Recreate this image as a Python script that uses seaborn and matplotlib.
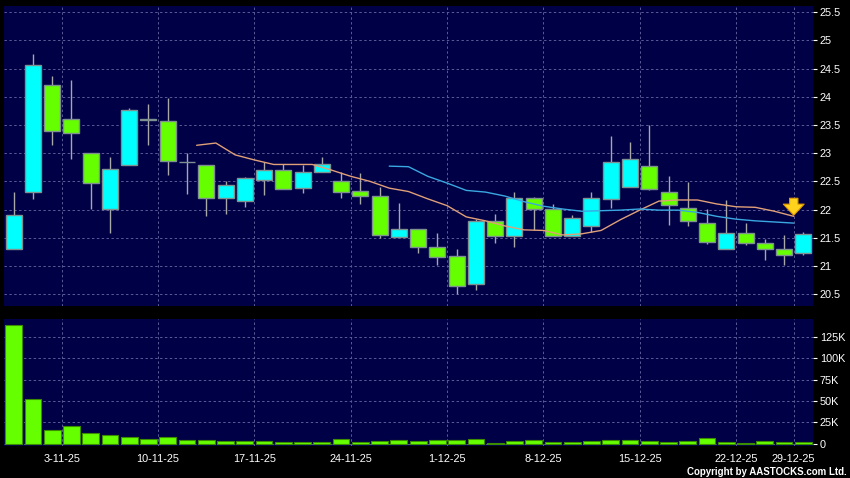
import numpy as np
import pandas as pd
import matplotlib
matplotlib.use("Agg")
import matplotlib.pyplot as plt
import matplotlib.ticker as mticker
import seaborn as sns

# ─── data ───────────────────────────────────────────────────────────────────
dates = pd.bdate_range("2025-10-28", "2025-12-29").drop(
    pd.to_datetime(["2025-10-29", "2025-12-25", "2025-12-26"]))

opens = [21.30, 22.31, 24.21, 23.60, 23.00, 22.01, 22.79, 23.60, 23.57, 22.84,
         22.79, 22.20, 22.15, 22.53, 22.70, 22.38, 22.66, 22.50, 22.33, 22.24,
         21.52, 21.65, 21.33, 21.17, 20.68, 21.79, 21.53, 22.20, 22.01, 21.53,
         21.71, 22.18, 22.40, 22.77, 22.31, 22.03, 21.77, 21.30, 21.58, 21.41,
         21.30, 21.23]
closes = [21.91, 24.56, 23.39, 23.36, 22.47, 22.72, 23.76, 23.58, 22.86, 22.84,
          22.20, 22.43, 22.56, 22.70, 22.36, 22.66, 22.80, 22.31, 22.24, 21.55,
          21.65, 21.33, 21.16, 20.64, 21.79, 21.53, 22.20, 22.01, 21.53, 21.85,
          22.20, 22.84, 22.89, 22.36, 22.08, 21.79, 21.42, 21.58, 21.41, 21.30,
          21.19, 21.56]
highs = [22.31, 24.76, 24.37, 24.30, 23.00, 22.93, 23.80, 23.87, 23.98, 23.00,
         22.79, 22.50, 22.58, 22.85, 22.80, 22.79, 22.93, 22.66, 22.65, 22.40,
         22.11, 21.65, 21.58, 21.30, 21.83, 21.93, 22.31, 22.22, 22.10, 21.90,
         22.31, 23.30, 23.20, 23.50, 22.59, 22.49, 22.01, 22.17, 21.77, 21.48,
         21.55, 21.60]
lows = [21.30, 22.19, 23.15, 22.89, 22.01, 21.59, 22.79, 23.14, 22.62, 22.27,
        21.88, 21.93, 22.05, 22.25, 22.36, 22.30, 22.66, 22.20, 22.09, 21.49,
        21.52, 21.23, 21.01, 20.50, 20.57, 21.40, 21.33, 21.64, 21.53, 21.53,
        21.60, 22.03, 22.40, 22.34, 21.72, 21.71, 21.39, 21.30, 21.37, 21.10,
        21.01, 21.19]
volume_k = [138.7, 52.6, 16.4, 20.3, 12.9, 10.5, 8.2, 5.5, 8.2, 4.0,
            4.3, 3.6, 3.6, 2.8, 2.4, 2.4, 2.4, 5.5, 2.4, 3.6,
            4.3, 3.2, 4.3, 4.7, 5.1, 1.2, 3.2, 4.0, 2.0, 2.0,
            3.2, 4.3, 4.0, 3.2, 2.0, 3.6, 6.6, 2.0, 0.8, 3.2,
            2.4, 2.0]

# moving averages (the chart draws them half a bar to the left)
ma_short_idx = list(range(10, 42))
ma_short = [23.14, 23.18, 22.97, 22.88, 22.80, 22.80, 22.80, 22.70, 22.59, 22.50,
            22.38, 22.32, 22.19, 22.07, 21.87, 21.80, 21.71, 21.64, 21.63, 21.55,
            21.57, 21.63, 21.82, 21.99, 22.15, 22.17, 22.17, 22.10, 22.05, 22.04,
            21.97, 21.88]
ma_long_idx = list(range(20, 42))
ma_long = [22.77, 22.76, 22.59, 22.47, 22.34, 22.31, 22.24, 22.14, 22.06, 22.01,
           21.97, 21.98, 21.99, 22.01, 21.99, 21.99, 21.95, 21.88, 21.83, 21.80,
           21.78, 21.76]

price_ticks = [20.5, 21, 21.5, 22, 22.5, 23, 23.5, 24, 24.5, 25, 25.5]
volume_ticks = [0, 25, 50, 75, 100, 125]

# ─── style ──────────────────────────────────────────────────────────────────
BG = "#000000"
PANEL = "#000046"
GRID = "#5a5a96"
UP = "#00ffff"
DOWN = "#66ff00"
EDGE = "#7f9090"
WICK = "#a8a8a8"
TEXT = "#ffffff"

sns.set_style("dark")
plt.rcParams["font.family"] = ["Liberation Sans", "DejaVu Sans"]

fig = plt.figure(figsize=(8.5, 4.78), dpi=100)
fig.patch.set_facecolor(BG)
ax1 = fig.add_axes([4 / 850, 1 - 306 / 478, 809 / 850, 300 / 478])
ax2 = fig.add_axes([4 / 850, 1 - 446 / 478, 809 / 850, 127 / 478])

idx = np.arange(len(opens))
o = np.array(opens)
c = np.array(closes)
colors = [UP if cc > oo else (DOWN if cc < oo else WICK) for oo, cc in zip(o, c)]

# ─── price panel ────────────────────────────────────────────────────────────
ax1.vlines(idx, lows, highs, color=WICK, linewidth=1, zorder=2)
ax1.bar(idx, np.abs(c - o), bottom=np.minimum(o, c), width=0.83,
        color=colors, edgecolor=EDGE, linewidth=1, zorder=3)
sns.lineplot(x=np.array(ma_short_idx) - 0.5, y=ma_short, ax=ax1,
             color="#e0a078", linewidth=1, zorder=4)
sns.lineplot(x=np.array(ma_long_idx) - 0.5, y=ma_long, ax=ax1,
             color="#3aa8e0", linewidth=1, zorder=4)
ax1.annotate("", xy=(40.5, 21.85), xytext=(40.5, 22.25),
             arrowprops=dict(arrowstyle="simple,head_width=1.5,head_length=0.8,tail_width=0.6",
                             facecolor="#ffd21e", edgecolor="#e09a00", linewidth=0.8),
             zorder=6)

ax1.set_ylim(20.29, 25.61)
ax1.set_yticks(price_ticks)
ax1.yaxis.set_major_formatter(mticker.FuncFormatter(lambda v, _: f"{v:g}"))

# ─── volume panel ───────────────────────────────────────────────────────────
sns.barplot(x=idx, y=volume_k, ax=ax2, color=DOWN, width=0.87,
            edgecolor="#3c8c00", linewidth=0.8, saturation=1, zorder=3)
ax2.set_ylim(-2.7, 145.7)
ax2.set_yticks(volume_ticks)
ax2.yaxis.set_major_formatter(mticker.FuncFormatter(
    lambda v, _: "0" if v == 0 else f"{int(v)}K"))

# week separators (Mondays)
mondays = [i for i, d in enumerate(dates) if d.weekday() == 0]
tick_pos = [i - 0.5 for i in mondays]
tick_lab = [f"{dates[i].day}-{dates[i].month}-{dates[i].year % 100}" for i in mondays]

for ax in (ax1, ax2):
    ax.set_facecolor(PANEL)
    ax.set_xlim(-0.5, 41.5)
    ax.set_xticks(tick_pos)
    ax.grid(True, color=GRID, linestyle=(0, (2.5, 2.5)), linewidth=0.7, zorder=0)
    ax.set_axisbelow(True)
    for s in ax.spines.values():
        s.set_visible(False)
    ax.yaxis.tick_right()
    ax.tick_params(axis="y", colors=TEXT, labelsize=7.8, length=3, width=0.8,
                   pad=2, direction="out")
    ax.set_xlabel("")
    ax.set_ylabel("")

ax1.tick_params(axis="x", length=0, labelbottom=False)
ax2.set_xticklabels(tick_lab)
ax2.tick_params(axis="x", colors=TEXT, labelsize=7.8, length=3, width=0.8, pad=3)

fig.text(0.996, 0.013, "Copyright by AASTOCKS.com Ltd.", ha="right", va="center",
         fontsize=7, fontweight="bold", color=TEXT)

fig.savefig("out.png", dpi=100, facecolor=fig.get_facecolor())
